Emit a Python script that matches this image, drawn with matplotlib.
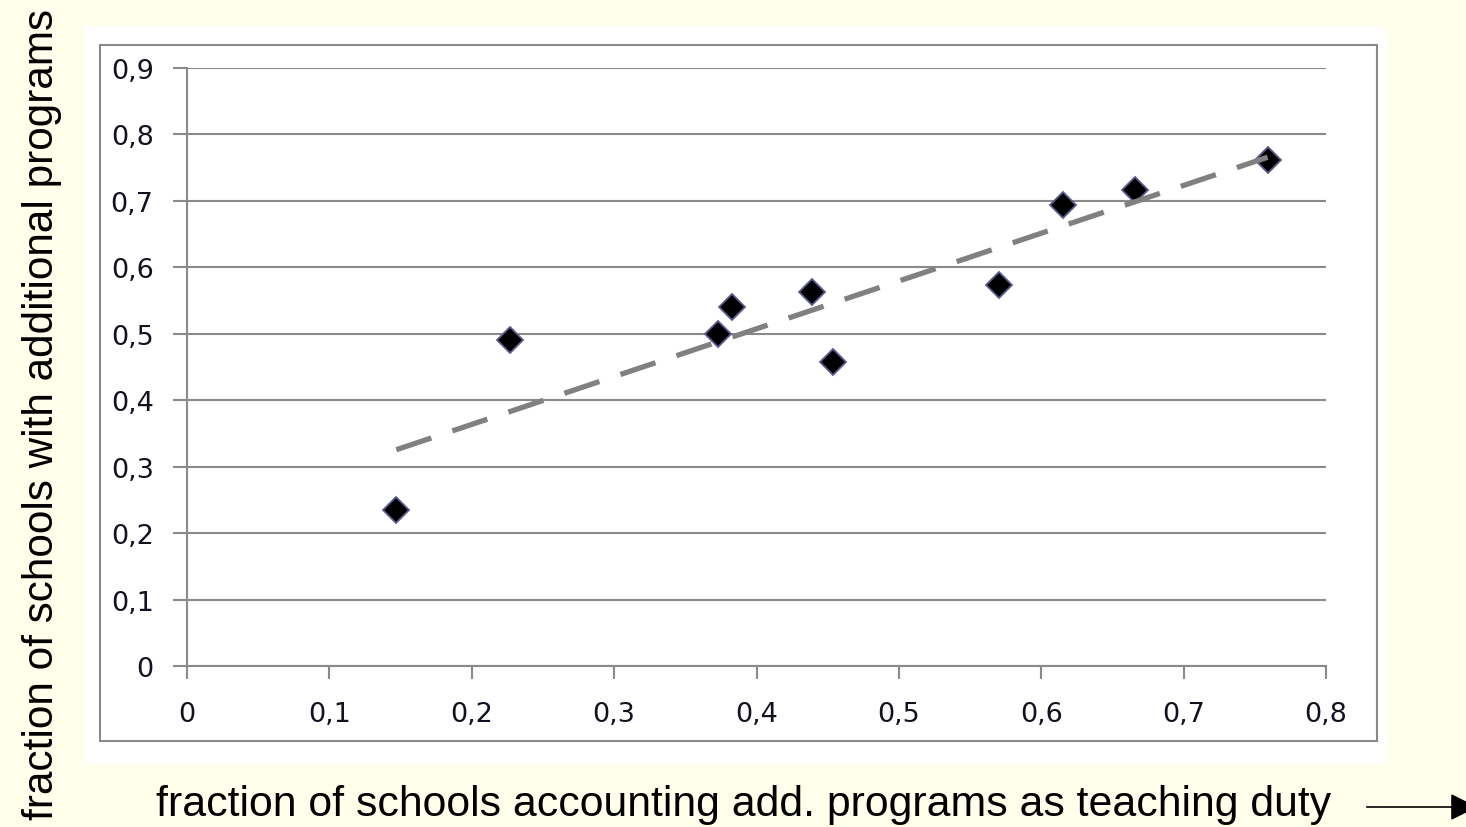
import numpy as np
import matplotlib.pyplot as plt
from matplotlib.patches import Rectangle, FancyArrowPatch

# share of schools counting additional programs as teaching duty
frac_duty = [0.147, 0.227, 0.373, 0.383, 0.439, 0.454, 0.570, 0.615, 0.666, 0.759]
# share of schools offering additional programs
frac_programs = [0.235, 0.490, 0.500, 0.540, 0.563, 0.457, 0.573, 0.694, 0.716, 0.762]

x_ticks = [0, 0.1, 0.2, 0.3, 0.4, 0.5, 0.6, 0.7, 0.8]
y_ticks = [0, 0.1, 0.2, 0.3, 0.4, 0.5, 0.6, 0.7, 0.8, 0.9]

plt.rcParams["font.family"] = "DejaVu Sans"

W, H = 1466, 828
fig = plt.figure(figsize=(W / 100, H / 100), dpi=100, facecolor="#FFFFEC")

# white chart panel with a thin grey frame
fig.patches.append(Rectangle((84 / W, 63 / H), 1302 / W, 737 / H,
                             transform=fig.transFigure, facecolor="white",
                             edgecolor="none", zorder=-2))
fig.patches.append(Rectangle((100 / W, 86 / H), 1277 / W, 696 / H,
                             transform=fig.transFigure, facecolor="none",
                             edgecolor="#8a8a8a", lw=1.5, zorder=-1))

ax = fig.add_axes([187 / W, 161 / H, 1139 / W, 598 / H])
ax.set_facecolor("none")

x = np.array(frac_duty)
y = np.array(frac_programs)
ax.plot(x, y, linestyle="none", marker="D", markersize=13.5,
        markerfacecolor="black", markeredgecolor="#5a5a90",
        markeredgewidth=1.3, zorder=3)

# linear trend line through the points, drawn over the markers
k, d = np.polyfit(x, y, 1)
xs = np.array([x.min(), x.max()])
ax.plot(xs, k * xs + d, color="#808080", lw=3.8, dashes=(7, 4.2),
        solid_capstyle="butt", zorder=4)

ax.set_xlim(0, 0.8)
ax.set_ylim(0, 0.9)
fmt = lambda v: "0" if v == 0 else f"{v:.1f}".replace(".", ",")
ax.set_xticks(x_ticks, [fmt(v) for v in x_ticks])
ax.set_yticks(y_ticks, [fmt(v) for v in y_ticks])

for s in ["top", "right"]:
    ax.spines[s].set_visible(False)
for s in ["left", "bottom"]:
    ax.spines[s].set_color("#8a8a8a")
    ax.spines[s].set_linewidth(1.5)

ax.yaxis.grid(True, color="#8a8a8a", lw=1.5)
ax.set_axisbelow(True)
ax.tick_params(axis="y", length=10, pad=14, colors="#8a8a8a", width=1.5,
               labelcolor="#111122", labelsize=19.5)
ax.tick_params(axis="x", length=9, pad=16, colors="#8a8a8a", width=1.5,
               labelcolor="#111122", labelsize=19.5)

fig.text(744 / W, 1 - 805 / H,
         "fraction of schools accounting add. programs as teaching duty",
         ha="center", va="center", fontsize=30.8, family="Liberation Sans")
fig.text(42 / W, 1 - 415 / H, "fraction of schools with additional programs",
         ha="center", va="center", rotation=90, fontsize=30.4,
         family="Liberation Sans")

fig.patches.append(FancyArrowPatch((1364 / W, 1 - 808 / H), (1480 / W, 1 - 808 / H),
                                   transform=fig.transFigure, arrowstyle="-|>",
                                   mutation_scale=42, lw=1.2, color="black"))

fig.savefig("out.png", dpi=100, facecolor=fig.get_facecolor())
